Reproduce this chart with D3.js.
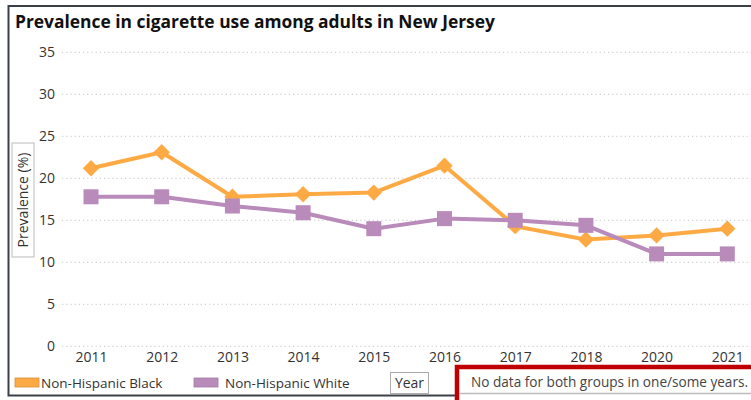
<!DOCTYPE html>
<html>
<head>
<meta charset="utf-8">
<script src="https://cdn.jsdelivr.net/npm/d3@7"></script>
<style>
html,body{margin:0;padding:0;background:#fff;}
svg{display:block;}
text{font-family:"Open Sans","Noto Sans",sans-serif;}
</style>
</head>
<body>
<svg id="chart" width="751" height="400"></svg>
<script>
const years = ["2011","2012","2013","2014","2015","2016","2017","2018","2020","2021"];
const blackValues = [21.2, 23.1, 17.8, 18.1, 18.3, 21.5, 14.3, 12.7, 13.2, 14.0];
const whiteValues = [17.8, 17.8, 16.7, 15.9, 14.0, 15.2, 15.0, 14.4, 11.0, 11.0];
const yTicks = [0, 5, 10, 15, 20, 25, 30, 35];
const seriesNames = ["Non-Hispanic Black", "Non-Hispanic White"];
const titleText = "Prevalence in cigarette use among adults in New Jersey";
const yAxisTitle = "Prevalence (%)";
const xAxisTitle = "Year";
const noteText = "No data for both groups in one/some years.";

const orange = "#FDAA45";
const purple = "#B98BBA";
const svg = d3.select("#chart");

// outer frame
svg.append("rect").attr("x", 8.5).attr("y", 6).attr("width", 800).attr("height", 389.5)
  .attr("fill", "#fff").attr("stroke", "#3b4048").attr("stroke-width", 2);

// title
svg.append("text").attr("x", 15).attr("y", 28)
  .attr("font-size", 17.4).attr("font-weight", "bold").attr("fill", "#111")
  .text(titleText);

const x = d3.scalePoint().domain(years).range([91, 727.3]);
const y = d3.scaleLinear().domain([0, 35]).range([346.3, 52.3]);

// gridlines
const grid = svg.append("g");
grid.selectAll("line").data(yTicks).join("line")
  .attr("x1", 62).attr("x2", 751)
  .attr("y1", d => y(d)).attr("y2", d => y(d))
  .attr("stroke", "#d0d0d0").attr("stroke-width", 1.2).attr("stroke-dasharray", "1.2,3");

// y axis labels
const yAxis = d3.axisLeft(y).tickValues(yTicks).tickSize(0).tickPadding(0);
const gy = svg.append("g").attr("transform", "translate(55,0)").call(yAxis);
gy.select(".domain").remove();
gy.selectAll("text").attr("font-size", 14).attr("fill", "#333").attr("font-family", "'Open Sans',sans-serif");

// x axis labels
const xAxis = d3.axisBottom(x).tickSize(0).tickPadding(0);
const gx = svg.append("g").attr("transform", "translate(0,352)").call(xAxis);
gx.select(".domain").remove();
gx.selectAll("text").attr("font-size", 14).attr("fill", "#333").attr("font-family", "'Open Sans',sans-serif");

// y axis title box
const ytg = svg.append("g").attr("transform", "translate(23,200) rotate(-90)");
ytg.append("rect").attr("x", -57).attr("y", -11).attr("width", 114).attr("height", 22)
  .attr("fill", "#fff").attr("stroke", "#bbb").attr("stroke-width", 1);
ytg.append("text").attr("x", 0).attr("y", 0).attr("dy", "0.35em").attr("text-anchor", "middle")
  .attr("font-size", 14).attr("fill", "#333").text(yAxisTitle);

// lines
const line = d3.line().x((d, i) => x(years[i])).y(d => y(d));

svg.append("path").datum(blackValues).attr("d", line)
  .attr("fill", "none").attr("stroke", orange).attr("stroke-width", 4).attr("stroke-linejoin", "round");
svg.append("g").selectAll("path").data(blackValues).join("path")
  .attr("d", d3.symbol(d3.symbolDiamond2, 170))
  .attr("transform", (d, i) => `translate(${x(years[i])},${y(d)})`)
  .attr("fill", orange);

svg.append("path").datum(whiteValues).attr("d", line)
  .attr("fill", "none").attr("stroke", purple).attr("stroke-width", 4).attr("stroke-linejoin", "round");
svg.append("g").selectAll("rect").data(whiteValues).join("rect")
  .attr("x", (d, i) => x(years[i]) - 7.5).attr("y", d => y(d) - 7.5)
  .attr("width", 15).attr("height", 15)
  .attr("fill", purple);

// legend
const legendColors = [orange, purple];
const legendX = [15, 194];
const lg = svg.append("g");
seriesNames.forEach((name, i) => {
  lg.append("rect").attr("x", legendX[i]).attr("y", 378).attr("width", 24).attr("height", 9)
    .attr("fill", legendColors[i]).attr("stroke", i === 0 ? "#d8903a" : "#a07aa2").attr("stroke-width", 0.8);
  lg.append("text").attr("x", legendX[i] + (i === 0 ? 26 : 31)).attr("y", 383).attr("dy", "0.35em")
    .attr("font-size", 13.5).attr("fill", "#333").text(name);
});

// x axis title box
svg.append("rect").attr("x", 390.5).attr("y", 372.5).attr("width", 38).attr("height", 21)
  .attr("fill", "#fff").attr("stroke", "#aaa").attr("stroke-width", 1);
svg.append("text").attr("x", 409.5).attr("y", 383).attr("dy", "0.35em").attr("text-anchor", "middle")
  .attr("font-size", 14).attr("fill", "#333").text(xAxisTitle);

// note box
svg.append("rect").attr("x", 457).attr("y", 367).attr("width", 320).attr("height", 40)
  .attr("fill", "#fff").attr("stroke", "#c00000").attr("stroke-width", 4.5);
svg.append("line").attr("x1", 459).attr("x2", 751).attr("y1", 393.5).attr("y2", 393.5)
  .attr("stroke", "#bbb").attr("stroke-width", 1.5);
svg.append("text").attr("x", 471).attr("y", 382).attr("dy", "0.35em")
  .attr("font-size", 13.6).attr("fill", "#444").text(noteText);
</script>
</body>
</html>
